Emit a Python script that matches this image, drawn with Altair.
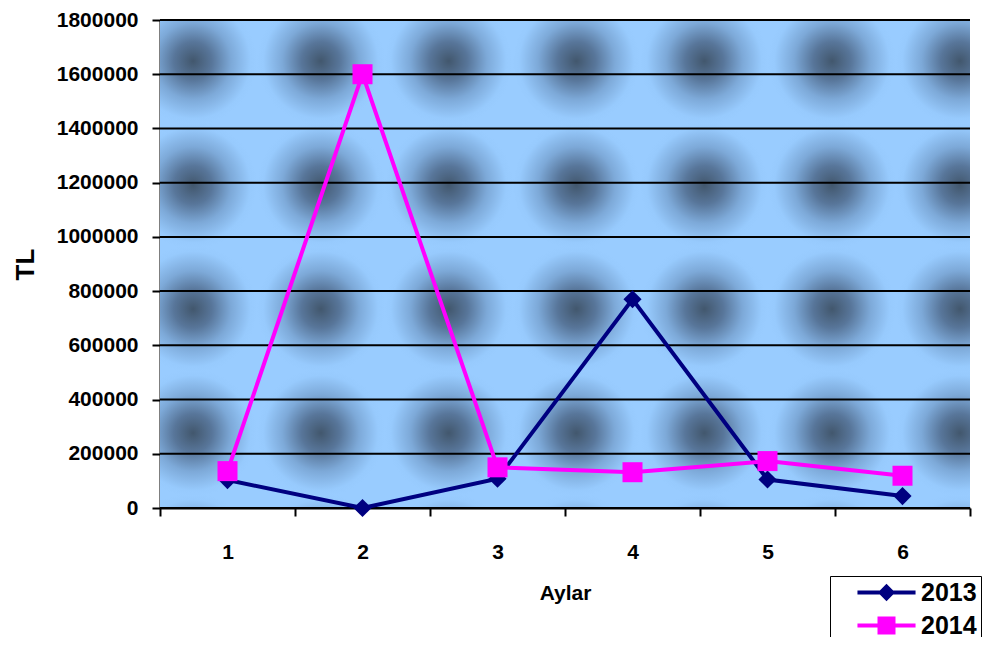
import altair as alt
import pandas as pd

months = ["1", "2", "3", "4", "5", "6"]
tl_2013 = [103000, 0, 108000, 770000, 105000, 44000]
tl_2014 = [136000, 1600000, 150000, 132000, 173000, 119000]
series = ["2013", "2014"]
colors = ["#000080", "#FF00FF"]
y_ticks = [0, 200000, 400000, 600000, 800000, 1000000, 1200000, 1400000, 1600000, 1800000]

# decorative background texture: tile indices (columns, rows)
tile_cols = [0, 1, 2, 3, 4, 5, 6]
tile_rows = [0, 1, 2, 3, 4]

df = pd.DataFrame({
    "Ay": months * 2,
    "TL": tl_2013 + tl_2014,
    "Seri": [series[0]] * len(months) + [series[1]] * len(months),
})
tiles = pd.DataFrame([(c, r) for c in tile_cols for r in tile_rows], columns=["c", "r"])
grid_df = pd.DataFrame({"TL": y_ticks})

FONT = "Liberation Sans"

x_enc = alt.X(
    "Ay:O",
    sort=months,
    bandPosition=0.5,
    scale=alt.Scale(type="band", domain=months, paddingInner=0, paddingOuter=0),
    axis=alt.Axis(
        title="Aylar", labelAngle=0, tickBand="extent", tickSize=8, tickWidth=2,
        tickColor="black", domainColor="black", domainWidth=2,
        labelFont=FONT, labelFontSize=21, labelFontWeight="bold", labelColor="black",
        labelPadding=25, titleFont=FONT, titleFontSize=21, titleFontWeight="bold",
        titleColor="black", titlePadding=20, grid=False,
    ),
)
y_enc = alt.Y(
    "TL:Q",
    scale=alt.Scale(domain=[0, 1800000], nice=False),
    axis=alt.Axis(
        title="TL", values=y_ticks, format="d", tickSize=8, tickWidth=2,
        tickColor="black", domainColor="black", domainWidth=2, grid=False,
        labelFont=FONT, labelFontSize=21, labelFontWeight="bold", labelColor="black",
        labelPadding=14, titleFont=FONT, titleFontSize=26, titleFontWeight="bold",
        titleColor="black", titlePadding=18,
    ),
)

texture = alt.Chart(tiles).transform_calculate(c2="datum.c + 1", r2="datum.r + 1").mark_rect(
    clip=True,
    color=alt.RadialGradient(
        gradient="radial",
        stops=[
            alt.GradientStop(offset=0, color="#42576D"),
            alt.GradientStop(offset=0.3, color="#58769A"),
            alt.GradientStop(offset=0.6, color="#7DA9D8"),
            alt.GradientStop(offset=0.9, color="#97CAFD"),
            alt.GradientStop(offset=1, color="#99CCFF"),
        ],
        x1=0.5, y1=0.5, r1=0, x2=0.5, y2=0.5, r2=0.5,
    ),
).encode(
    x=alt.X("c:Q", scale=alt.Scale(domain=[0.243, 6.578], nice=False, zero=False), axis=None),
    x2="c2:Q",
    y=alt.Y("r:Q", scale=alt.Scale(domain=[0.169, 4.105], nice=False, zero=False, reverse=True), axis=None),
    y2="r2:Q",
)

gridlines = alt.Chart(grid_df).mark_rule(color="black", strokeWidth=2).encode(y=y_enc)

base = alt.Chart(df)

def series_layers(name, color, shape, size):
    sub = base.transform_filter(alt.datum.Seri == name)
    line = sub.mark_line(color=color, strokeWidth=4).encode(x=x_enc, y=y_enc)
    pts = sub.mark_point(filled=True, color=color, shape=shape, size=size, opacity=1).encode(x=x_enc, y=y_enc)
    return line, pts

l13, p13 = series_layers(series[0], colors[0], "diamond", 330)
l14, p14 = series_layers(series[1], colors[1], "square", 400)

sym_2013 = "M-2.42,-0.17L2.42,-0.17L2.42,0.17L-2.42,0.17Z M0,-0.72L0.72,0L0,0.72L-0.72,0Z"
sym_2014 = "M-2.42,-0.17L2.42,-0.17L2.42,0.17L-2.42,0.17Z M-0.75,-0.75L0.75,-0.75L0.75,0.75L-0.75,0.75Z"

leg = alt.Legend(
    title=None, orient="none", legendX=670, legendY=556,
    strokeColor="black", fillColor="white", padding=4,
    symbolSize=576, symbolOffset=40, symbolOpacity=1, symbolStrokeWidth=0,
    labelFont=FONT, labelFontSize=25, labelFontWeight="bold", labelColor="black",
    labelOffset=22, rowPadding=7,
)

legend_layer = base.mark_point(filled=True, opacity=0).encode(
    x=x_enc, y=y_enc,
    color=alt.Color("Seri:N", scale=alt.Scale(domain=series, range=colors), legend=leg),
    shape=alt.Shape("Seri:N", scale=alt.Scale(domain=series, range=[sym_2013, sym_2014]), legend=leg),
)

main = alt.layer(gridlines, l13, l14, p13, p14, legend_layer)

chart = alt.layer(texture, main).resolve_scale(x="independent", y="independent").properties(
    width=810, height=488,
    autosize=alt.AutoSizeParams(type="none"),
    padding={"left": 152, "top": 12, "right": 17, "bottom": 129},
).configure(background="white").configure_view(fill="#99CCFF", strokeWidth=0)

chart.save("out.html", embed_options={"renderer": "svg", "actions": False})
